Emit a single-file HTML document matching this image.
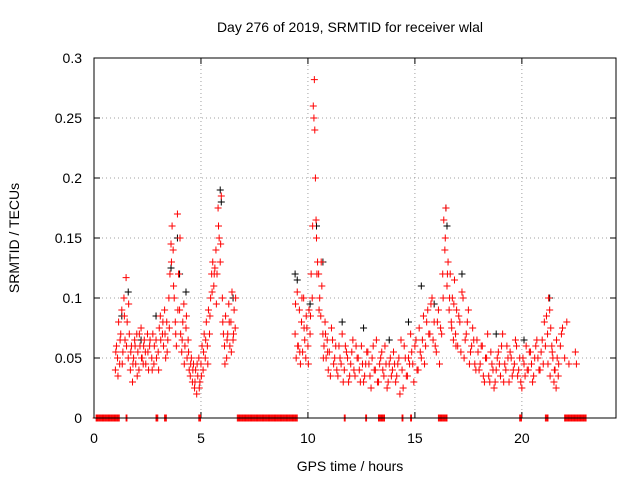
<!DOCTYPE html>
<html><head><meta charset="utf-8"><style>
body{margin:0;background:#fff;}
svg{display:block;font-family:"Liberation Sans",sans-serif;}
</style></head><body>
<svg id="chart" width="640" height="480">
<text x="350" y="32" text-anchor="middle" font-size="14">Day 276 of 2019, SRMTID for receiver wlal</text>
<text x="350" y="471" text-anchor="middle" font-size="14">GPS time / hours</text>
<text transform="translate(19,238) rotate(-90)" text-anchor="middle" font-size="14">SRMTID / TECUs</text>
<g id="grid"></g>
<g id="ticks"></g>
<g id="black"></g>
<g id="red"></g>
<rect x="94" y="58" width="522" height="360" fill="none" stroke="#000"/>
</svg>
<script>
const xTicks=[0,5,10,15,20];
const yTicks=[0,0.05,0.1,0.15,0.2,0.25,0.3];
const yTickLabels=["0","0.05","0.1","0.15","0.2","0.25","0.3"];
const redT=[1.0,1.05,1.1,1.15,1.2,1.25,1.3,1.35,1.4,1.45,1.5,1.55,1.6,1.65,1.7,1.75,1.8,1.85,1.9,1.95,2.0,2.05,2.1,2.15,2.2,2.25,2.3,2.35,2.4,2.5,2.55,2.6,2.7,2.75,2.8,2.9,3.0,3.05,3.1,3.2,3.25,3.3,3.35,3.4,3.45,3.5,3.55,3.6,3.65,3.7,3.75,3.8,3.85,3.9,3.95,4.0,4.05,4.1,4.15,4.2,4.25,4.3,4.35,4.4,4.45,4.5,4.55,4.6,4.65,4.7,4.75,4.8,4.85,4.9,4.95,5.0,5.05,5.1,5.15,5.2,5.25,5.3,5.35,5.4,5.45,5.5,5.55,5.6,5.65,5.7,5.75,5.8,5.85,5.9,5.95,6.0,6.05,6.1,6.15,6.2,6.25,6.3,6.35,6.4,6.45,6.5,6.55,6.6,
9.4,9.45,9.5,9.55,9.6,9.65,9.7,9.75,9.8,9.85,9.9,9.95,10.0,10.05,10.1,10.15,10.2,10.25,10.3,10.32,10.35,10.38,10.4,10.45,10.5,10.55,10.6,10.65,10.7,10.75,10.8,10.85,10.9,10.95,11.0,11.1,11.2,11.3,11.4,11.5,11.6,11.7,11.8,11.9,12.0,12.1,12.2,12.3,12.4,12.5,12.6,12.7,12.8,12.9,13.0,13.1,13.2,13.3,13.4,13.5,13.6,13.7,13.8,13.9,14.0,14.1,14.2,14.3,14.4,14.5,14.6,14.7,14.8,14.9,15.0,15.1,15.2,15.3,15.4,15.5,15.6,15.7,15.8,15.9,16.0,16.1,16.2,16.3,16.35,16.4,16.45,16.5,16.55,16.6,16.65,16.7,16.75,16.8,16.85,16.9,16.95,17.0,17.1,17.2,17.3,17.4,17.5,17.6,17.7,17.8,17.9,18.0,18.1,18.2,18.3,18.4,18.5,18.6,18.7,18.8,18.9,19.0,19.1,19.2,19.3,19.4,19.5,19.6,19.7,19.8,19.9,20.0,20.1,20.2,20.3,20.4,20.5,20.6,20.7,20.8,20.9,21.0,21.1,21.2,21.25,21.3,21.35,21.4,21.45,21.5,21.55,21.6,21.65,21.7,21.8,21.9,22.0,22.1,22.2,22.5,22.55];
const redV=[.04,.06,.05,.08,.045,.07,.09,.055,.1,.065,.117,.08,.05,.07,.04,.06,.03,.05,.065,.045,.07,.055,.04,.06,.075,.05,.045,.065,.055,.07,.04,.06,.05,.07,.045,.065,.055,.075,.085,.07,.06,.09,.05,.08,.065,.1,.12,.145,.16,.14,.1,.08,.06,.17,.12,.09,.07,.055,.08,.095,.06,.075,.05,.065,.04,.035,.05,.03,.045,.025,.04,.02,.035,.05,.03,.045,.06,.04,.07,.05,.08,.06,.09,.07,.1,.12,.13,.11,.125,.14,.12,.175,.15,.13,.185,.1,.07,.06,.085,.05,.07,.095,.06,.08,.105,.065,.09,.075,
.07,.05,.105,.06,.09,.045,.08,.055,.1,.065,.05,.075,.06,.09,.07,.12,.1,.26,.282,.24,.2,.165,.15,.13,.12,.1,.085,.11,.07,.06,.08,.05,.065,.04,.055,.075,.045,.06,.035,.05,.07,.04,.055,.03,.045,.065,.035,.05,.04,.06,.03,.045,.055,.035,.05,.04,.065,.03,.05,.04,.06,.025,.045,.035,.055,.03,.045,.02,.04,.06,.035,.05,.07,.045,.06,.04,.075,.05,.085,.06,.09,.07,.1,.08,.055,.09,.075,.12,.165,.14,.175,.11,.13,.09,.12,.08,.1,.065,.115,.07,.09,.06,.08,.105,.05,.07,.09,.055,.075,.045,.065,.04,.06,.035,.05,.07,.03,.045,.025,.04,.055,.035,.07,.045,.06,.03,.05,.04,.065,.035,.05,.025,.045,.06,.04,.055,.03,.05,.065,.04,.055,.045,.06,.07,.1,.09,.075,.06,.05,.03,.04,.025,.05,.035,.06,.075,.05,.08,.045,.055,.045];
const redT2=[1.02,1.12,1.22,1.32,1.42,1.52,1.62,1.72,1.82,1.92,2.02,2.12,2.22,2.32,2.42,2.52,2.62,2.72,2.82,2.92,3.02,3.12,3.22,3.32,3.42,3.52,3.62,3.72,3.82,3.92,4.02,4.12,4.22,4.32,4.42,4.52,4.62,4.72,4.82,4.92,5.02,5.12,5.22,5.32,5.42,5.52,5.62,5.72,5.82,5.92,6.02,6.12,6.22,6.32,6.42,6.52,6.62,
9.42,9.52,9.62,9.72,9.82,9.92,10.02,10.12,10.22,10.28,10.42,10.52,10.62,10.72,10.82,10.92,11.05,11.15,11.25,11.35,11.45,11.55,11.65,11.75,11.85,11.95,12.05,12.15,12.25,12.35,12.45,12.55,12.65,12.75,12.85,12.95,13.05,13.15,13.25,13.35,13.45,13.55,13.65,13.75,13.85,13.95,14.05,14.15,14.25,14.35,14.45,14.55,14.65,14.75,14.85,14.95,15.05,15.15,15.25,15.35,15.45,15.55,15.65,15.75,15.85,15.95,16.05,16.15,16.25,16.32,16.42,16.52,16.62,16.72,16.82,16.92,17.05,17.15,17.25,17.35,17.45,17.55,17.65,17.75,17.85,17.95,18.05,18.15,18.25,18.35,18.45,18.55,18.65,18.75,18.85,18.95,19.05,19.15,19.25,19.35,19.45,19.55,19.65,19.75,19.85,19.95,20.05,20.15,20.25,20.35,20.45,20.55,20.65,20.75,20.85,20.95,21.05,21.15,21.22,21.32,21.42,21.52,21.62,21.72,21.85,21.95,22.05,22.15,22.25];
const redV2=[.055,.035,.065,.045,.085,.06,.095,.055,.045,.06,.035,.07,.05,.06,.045,.055,.065,.04,.06,.05,.04,.065,.08,.07,.055,.075,.13,.11,.07,.09,.15,.065,.045,.085,.055,.045,.04,.03,.045,.025,.035,.055,.065,.045,.085,.105,.12,.095,.16,.145,.08,.045,.065,.08,.055,.07,.1,
.095,.06,.055,.1,.075,.085,.045,.085,.16,.25,.12,.09,.13,.05,.07,.055,.035,.065,.05,.04,.06,.045,.03,.06,.05,.035,.055,.04,.06,.05,.03,.045,.035,.055,.045,.025,.06,.04,.03,.045,.055,.035,.045,.03,.05,.04,.045,.035,.05,.065,.025,.05,.035,.045,.055,.03,.065,.04,.055,.065,.045,.08,.07,.095,.065,.06,.08,.045,.07,.1,.15,.12,.1,.075,.095,.06,.085,.055,.1,.065,.08,.045,.06,.065,.04,.055,.045,.06,.03,.05,.035,.055,.04,.03,.05,.045,.06,.03,.04,.05,.055,.035,.045,.06,.04,.03,.05,.035,.04,.055,.045,.035,.06,.05,.04,.065,.08,.085,.045,.035,.055,.04,.065,.045,.07];
const blackT=[1.3,1.6,2.2,2.9,3.6,3.9,4.0,4.3,5.9,5.95,6.5,9.4,9.5,10.1,10.4,10.7,11.6,12.6,13.8,14.7,15.3,15.9,16.45,16.5,17.2,18.8,20.1,21.3];
const blackV=[.085,.105,.065,.085,.125,.15,.12,.105,.19,.18,.1,.12,.115,.095,.16,.13,.08,.075,.065,.08,.11,.095,.175,.16,.12,.07,.065,.1];
const zeroStart=[0.1,1.5,2.9,3.3,4.9,6.7,11.7,12.7,13.3,14.4,14.8,16.1,19.9,21.1,22.0];
const zeroEnd=[1.2,1.55,3.0,3.4,5.0,9.5,11.75,12.75,13.6,14.45,14.85,16.5,20.0,21.25,23.0];
const X0=94,X1=616,Y0=418,Y1=58,XMAX=24.4,YMAX=0.3;
const sx=t=>X0+(X1-X0)*t/XMAX, sy=v=>Y0-(Y0-Y1)*v/YMAX;
const NS="http://www.w3.org/2000/svg";
function mk(tag,attrs,parent){const e=document.createElementNS(NS,tag);for(const k in attrs)e.setAttribute(k,attrs[k]);parent.appendChild(e);return e;}
const grid=document.getElementById('grid'),ticks=document.getElementById('ticks');
xTicks.forEach(t=>{const x=sx(t);
 if(t>0){const g=mk('line',{x1:x,x2:x,y1:Y0,y2:Y1,stroke:'#a0a0a0','stroke-dasharray':'1,3'},grid);
 
 }
 mk('line',{x1:x,x2:x,y1:Y0,y2:Y0-6,stroke:'#000'},ticks);mk('line',{x1:x,x2:x,y1:Y1,y2:Y1+6,stroke:'#000'},ticks);
 const l=mk('text',{x:x,y:443,'text-anchor':'middle','font-size':'14'},ticks);l.textContent=t;
 
 });
yTicks.forEach((v,i)=>{const y=sy(v);
 if(i>0&&i<yTicks.length-1){const g=mk('line',{x1:X0,x2:X1,y1:y,y2:y,stroke:'#a0a0a0','stroke-dasharray':'1,3'},grid);
 
 }
 mk('line',{x1:X0,x2:X0+6,y1:y,y2:y,stroke:'#000'},ticks);mk('line',{x1:X1,x2:X1-6,y1:y,y2:y,stroke:'#000'},ticks);
 const l=mk('text',{x:82,y:y+5,'text-anchor':'end','font-size':'14'},ticks);l.textContent=yTickLabels[i];
 
 });
function plus(g,t,v,c,name){const x=sx(t),y=sy(v);
 const p=mk('path',{d:`M${x-3.5},${y}h7M${x},${y-3.5}v7`,stroke:c,'stroke-width':1},g);
 
 }
const bg=document.getElementById('black'),rg=document.getElementById('red');
blackT.forEach((t,i)=>plus(bg,t,blackV[i],'#000','black-point'));
redT.forEach((t,i)=>plus(rg,t,redV[i],'#f00','red-point'));
redT2.forEach((t,i)=>plus(rg,t,redV2[i],'#f00','red-point'));
zeroStart.forEach((s,i)=>{for(let t=s;t<=zeroEnd[i]+1e-9;t+=0.04)plus(rg,t,0,'#f00','zero-point');});
</script>
</body></html>
